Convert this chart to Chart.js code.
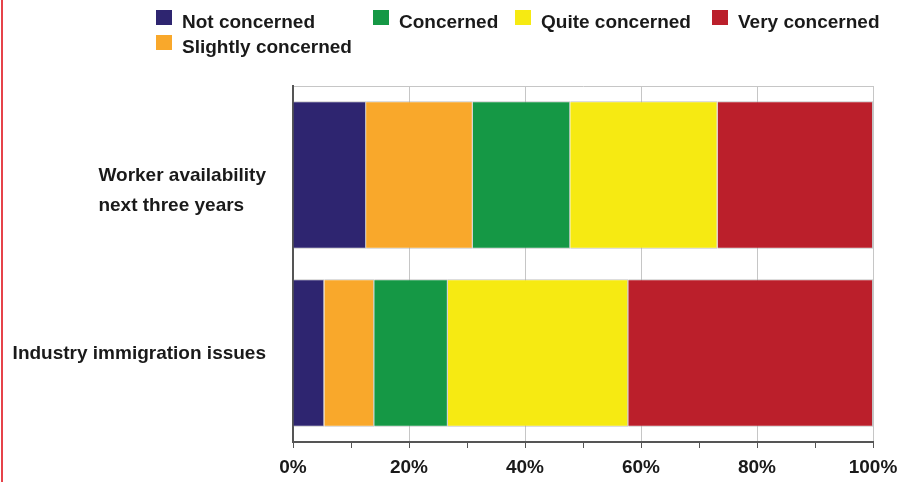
<!DOCTYPE html>
<html>
<head>
<meta charset="utf-8">
<script src="https://cdn.jsdelivr.net/npm/chart.js@4.4.1/dist/chart.umd.min.js"></script>
<style>
  body { margin: 0; background: #fff; }
  #wrap { position: relative; width: 906px; height: 482px; }
  #redline { position: absolute; left: 1px; top: 0; width: 2px; height: 482px; background: #e6434a; }
</style>
</head>
<body>
<div id="wrap">
  <canvas id="chart"></canvas>
  <div id="redline"></div>
</div>
<script>
const categories = [
  ['Worker availability', 'next three years'],
  ['Industry immigration issues']
];
const seriesNames = ['Not concerned', 'Slightly concerned', 'Concerned', 'Quite concerned', 'Very concerned'];
const seriesColors = ['#2e2570', '#f9a82b', '#159845', '#f6ea12', '#bb1f2b'];
const notConcerned      = [12.6, 5.4];
const slightlyConcerned = [18.4, 8.6];
const concerned         = [16.8, 12.7];
const quiteConcerned    = [25.4, 31.1];
const veryConcerned     = [26.8, 42.2];
const xTickLabels = ['0%', '20%', '40%', '60%', '80%', '100%'];

const seriesValues = [notConcerned, slightlyConcerned, concerned, quiteConcerned, veryConcerned];
const FONT = 'bold 19px "Liberation Sans", Arial, sans-serif';
const TEXT = '#1a1a1a';

// legend laid out in two rows like the original
const legendSlots = [
  { i: 0, x: 156, y: 10 },
  { i: 2, x: 373, y: 10 },
  { i: 3, x: 515, y: 10 },
  { i: 4, x: 712, y: 10 },
  { i: 1, x: 156, y: 35 }
];

const legendPlugin = {
  id: 'customLegend',
  afterDraw(chart) {
    const c = chart.ctx;
    c.save();
    c.font = FONT;
    c.textBaseline = 'alphabetic';
    c.textAlign = 'left';
    legendSlots.forEach(s => {
      const ds = chart.data.datasets[s.i];
      c.fillStyle = ds.backgroundColor;
      c.fillRect(s.x, s.y, 16, 15);
      c.fillStyle = TEXT;
      c.fillText(ds.label, s.x + 26, s.y + 18);
    });
    c.restore();
  }
};

// category labels: block right-aligned, lines left-aligned
const yLabelPlugin = {
  id: 'yLabels',
  afterDraw(chart) {
    const c = chart.ctx;
    const y = chart.scales.y;
    c.save();
    c.font = FONT;
    c.fillStyle = TEXT;
    c.textAlign = 'left';
    c.textBaseline = 'middle';
    chart.data.labels.forEach((lines, i) => {
      const w = Math.max(...lines.map(l => c.measureText(l).width));
      const x0 = 266 - w;
      const yc = y.getPixelForValue(i) + 1;
      lines.forEach((l, k) => c.fillText(l, x0, yc + k * 29.5));
    });
    c.restore();
  }
};

new Chart(document.getElementById('chart'), {
  type: 'bar',
  data: {
    labels: categories,
    datasets: seriesNames.map((name, i) => ({
      label: name,
      data: seriesValues[i],
      backgroundColor: seriesColors[i],
      borderColor: 'rgba(170,170,170,0.7)',
      borderWidth: 1,
      barPercentage: 0.9,
      categoryPercentage: 0.92
    }))
  },
  options: {
    indexAxis: 'y',
    responsive: true,
    maintainAspectRatio: false,
    animation: false,
    layout: { padding: { top: 86, right: 33, left: 0, bottom: 0 } },
    plugins: {
      legend: { display: false },
      tooltip: { enabled: false }
    },
    scales: {
      x: {
        stacked: true,
        min: 0,
        max: 100,
        afterFit: s => { s.height = 40; },
        ticks: {
          stepSize: 10,
          autoSkip: false,
          maxRotation: 0,
          padding: 8,
          color: TEXT,
          font: { family: '"Liberation Sans", Arial, sans-serif', size: 19, weight: 'bold' },
          callback: v => (v % 20 === 0 ? xTickLabels[v / 20] : '')
        },
        grid: {
          color: ctx => (ctx.tick && ctx.tick.value % 20 === 0 ? '#c6c6c6' : 'rgba(0,0,0,0)'),
          tickColor: '#555',
          tickLength: 6,
          lineWidth: 1
        },
        border: { color: '#555', width: 2 }
      },
      y: {
        stacked: true,
        afterFit: s => { s.width = 293; },
        ticks: { display: false },
        grid: {
          drawTicks: false,
          color: ctx => (ctx.index === 0 ? '#c6c6c6' : 'rgba(0,0,0,0)')
        },
        border: { color: '#555', width: 2 }
      }
    }
  },
  plugins: [legendPlugin, yLabelPlugin]
});
</script>
</body>
</html>
